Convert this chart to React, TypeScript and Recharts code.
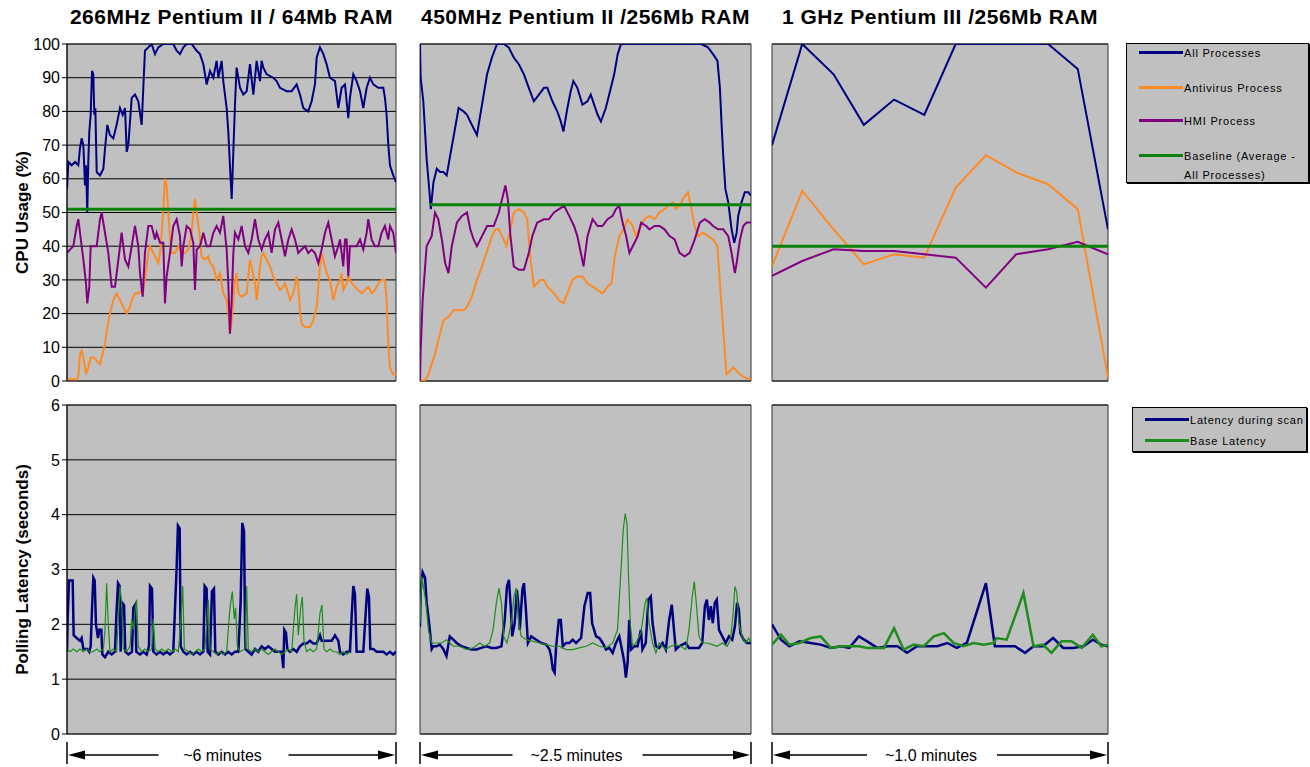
import { CartesianGrid, Line, LineChart, ReferenceArea, XAxis, YAxis } from "recharts"

type Pair = [number, number] // [elapsed seconds, value]

const FONT = "Arial, 'Liberation Sans', Helvetica, sans-serif"
const NAVY = "#000080"
const ORANGE = "#FF8A24"
const PURPLE = "#800080"
const GREEN = "#0B800B"
const LAT_GREEN = "#1E8C1E"

const CPU_TICKS = [0, 10, 20, 30, 40, 50, 60, 70, 80, 90, 100]
const LAT_TICKS = [0, 1, 2, 3, 4, 5, 6]

const TITLES = ["266MHz Pentium II / 64Mb RAM", "450MHz Pentium II /256Mb RAM", "1 GHz Pentium III /256Mb RAM"]
const SPANS = ["~6 minutes", "~2.5 minutes", "~1.0 minutes"]
const DURATIONS = [360, 150, 60]

// --- 266MHz, CPU usage (%) ---
const p1All: Pair[] = [
  [0, 57], [1.5, 65], [5.1, 64], [8.8, 65], [12.4, 64], [14.2, 69], [16, 72], [17.9, 70], [19.7, 58], [20.8, 64],
  [22.2, 50], [23.3, 65], [24.4, 74], [25.9, 79], [27.4, 92], [28.8, 91], [29.9, 79], [31, 81], [32.5, 62], [36.1, 61],
  [39.8, 63], [41.6, 69], [44.1, 76], [47, 73], [50.7, 72], [54.3, 76], [58, 81], [60.9, 79], [63.5, 81], [65.3, 68],
  [67.1, 70], [70.8, 84], [74.4, 85], [78, 83], [81.7, 76], [83.5, 87], [85.3, 98], [89, 99], [92.6, 100], [96.3, 97],
  [99.9, 99], [105.4, 100], [112.7, 100], [116.3, 100], [120, 98], [123.6, 97], [127.3, 99], [130.9, 100], [136.4, 100],
  [141.9, 98], [145.5, 97], [149.2, 94], [152.8, 88], [156.5, 92], [160.1, 90], [163.7, 95], [165.6, 90], [169.2, 95],
  [171, 89], [174.7, 81], [176.5, 74], [178.3, 64], [180.2, 54], [182, 68], [183.8, 82], [185.6, 93], [189.3, 87],
  [192.9, 85], [196.6, 86], [200.2, 94], [203.9, 85], [207.5, 95], [211.2, 89], [213, 95], [214.8, 93], [218.5, 91],
  [225.7, 90], [229.4, 89], [233, 87], [240.3, 86], [245.8, 86], [251.3, 88], [254.9, 85], [258.6, 81], [264, 80],
  [267.7, 83], [271.3, 88], [273.2, 96], [276.8, 99], [280.5, 97], [284.1, 94], [287.7, 90], [293.2, 89], [296.9, 81],
  [300.5, 87], [304.2, 88], [307.8, 78], [309.6, 84], [313.3, 91], [316.9, 89], [320.6, 86], [324.2, 81], [327.9, 87],
  [331.5, 90], [335.2, 88], [340.6, 87], [346.1, 87], [347.9, 84], [349.7, 79], [351.6, 70], [353.4, 64], [357, 61], [360, 59],
]
const p1Antivirus: Pair[] = [
  [0, 0.5], [5.1, 0.5], [10.6, 0.5], [12.4, 1.5], [14.2, 8], [16, 9], [18.6, 6], [20.8, 2], [23.3, 4], [25.9, 7],
  [28.8, 7], [32.5, 6], [36.1, 5], [37.9, 7], [39.8, 9], [41.6, 11], [43.4, 15], [47, 20], [50.7, 24], [54.3, 26],
  [58, 24], [61.6, 22], [65.3, 20], [68.9, 22], [70.8, 24], [74.4, 26], [78, 26], [81.7, 27], [83.5, 27], [87.2, 34],
  [89, 38], [90.8, 40], [94.5, 38], [98.1, 36], [99.9, 35], [101.8, 38], [103.6, 44], [105.4, 51], [107.2, 60], [109, 58],
  [110.9, 50], [112.7, 42], [114.5, 38], [118.2, 38], [121.8, 40], [125.5, 38], [129.1, 38], [132.8, 39], [136.4, 44],
  [138.2, 50], [140, 54], [141.9, 50], [144.8, 44], [147.3, 37], [151, 36], [154.6, 37], [156.5, 35], [160.1, 34],
  [163.7, 30], [167.4, 32], [171, 26], [174.7, 24], [176.5, 20], [178.3, 14], [180.2, 18], [182, 24], [183.8, 30],
  [185.6, 32], [187.5, 26], [191.1, 25], [196.6, 26], [198.4, 31], [200.2, 36], [202, 34], [205.7, 29], [207.5, 24],
  [211.2, 34], [213, 37], [214.8, 38], [218.5, 36], [222.1, 34], [225.7, 31], [229.4, 29], [233, 27], [236.7, 28],
  [238.5, 29], [242.2, 26], [244, 24], [247.6, 26], [251.3, 31], [253.1, 28], [254.9, 21], [256.7, 17], [260.4, 16],
  [265.9, 16], [269.5, 18], [273.2, 22], [276.8, 34], [278.6, 38], [280.5, 36], [284.1, 32], [287.7, 30], [291.4, 24],
  [295, 28], [298.7, 30], [300.5, 32], [302.3, 27], [306, 29], [307.8, 31], [311.5, 29], [315.1, 28], [318.8, 27],
  [322.4, 26], [326, 27], [329.7, 28], [333.3, 26], [337, 27], [340.6, 29], [344.3, 30], [347.9, 30], [349.7, 24],
  [351.6, 11], [353.4, 4], [357, 2], [360, 2],
]
const p1Hmi: Pair[] = [
  [0, 38], [3.3, 39], [6.9, 40], [10.6, 46], [12.4, 48], [14.2, 44], [17.9, 36], [20.8, 29], [22.2, 23], [24.4, 28],
  [25.9, 40], [32.5, 40], [36.1, 48], [37.9, 50], [41.6, 44], [45.2, 38], [48.9, 28], [52.5, 28], [56.2, 36], [59.8, 44],
  [63.5, 36], [67.1, 34], [70.8, 40], [74.4, 46], [78, 40], [79.9, 32], [82.8, 25], [85.3, 38], [89, 46], [92.6, 46],
  [96.3, 42], [98.1, 44], [101.8, 41], [105.4, 41], [107.2, 23], [109, 31], [112.7, 38], [116.3, 46], [120, 48],
  [123.6, 43], [125.5, 34], [127.3, 40], [130.9, 46], [134.6, 45], [138.2, 41], [140, 27], [141.9, 39], [145.5, 40],
  [149.2, 44], [152.8, 40], [156.5, 40], [160.1, 44], [163.7, 46], [167.4, 44], [171, 49], [174.7, 39], [176.5, 29],
  [178.3, 14], [180.2, 24], [182, 38], [183.8, 44], [187.5, 42], [191.1, 46], [194.8, 40], [198.4, 38], [202, 42],
  [205.7, 48], [209.3, 42], [213, 39], [216.6, 42], [220.3, 44], [223.9, 38], [227.6, 45], [231.2, 47], [234.9, 42],
  [238.5, 37], [242.2, 42], [245.8, 45], [249.5, 42], [253.1, 38], [256.7, 39], [260.4, 40], [264, 38], [267.7, 39],
  [271.3, 38], [275, 35], [278.6, 39], [282.3, 44], [285.9, 47], [289.6, 42], [293.2, 37], [296.9, 40], [298.7, 42],
  [302.3, 34], [304.2, 42], [306, 42], [307.8, 31], [309.6, 40], [313.3, 40], [316.9, 40], [320.6, 42], [324.2, 39],
  [327.9, 44], [329.7, 48], [333.3, 42], [337, 40], [340.6, 40], [344.3, 44], [347.9, 46], [351.6, 42], [353.4, 46],
  [357, 44], [360, 38],
]
const p1Baseline: Pair[] = [[0, 51], [360, 51]]

// --- 450MHz, CPU usage (%) ---
const p2All: Pair[] = [
  [0, 100], [0.3, 90], [1.5, 83], [3, 66], [4.3, 56], [4.9, 51], [6.1, 59], [7.6, 63], [9.1, 62], [10.6, 62],
  [12.1, 61], [13.7, 67], [15.9, 75], [17.5, 81], [19.7, 80], [21.3, 79], [23.5, 76], [25.8, 73], [28.1, 82], [30.4, 91],
  [32.6, 96], [34.9, 100], [38, 100], [40.2, 99], [42.5, 96], [44.8, 94], [47.1, 91], [49.3, 87], [51.6, 83], [53.9, 85],
  [56.2, 87], [57.7, 87], [60, 83], [62.2, 80], [63.8, 77], [65, 74], [66.8, 81], [68.3, 86], [69.5, 89], [71.3, 87],
  [73.6, 82], [75.9, 83], [77.4, 85], [78.9, 82], [80.5, 79], [82, 77], [84.2, 81], [86.5, 87], [88, 91], [89.6, 97],
  [91.1, 100], [127.5, 100], [130.5, 99], [132.8, 97], [134.8, 95], [135.9, 87], [136.6, 77], [137.4, 67], [138.4, 57],
  [139.7, 53], [141.2, 45], [142.4, 41], [143.5, 44], [144.2, 49], [145.7, 53], [147.2, 56], [148.8, 56], [150, 55],
]
const p2Antivirus: Pair[] = [
  [0, 0], [2.3, 0.3], [3.8, 2], [5.3, 5], [6.8, 8], [8.3, 12], [10.6, 18], [12.9, 19], [15.2, 21], [17.5, 21],
  [19.7, 21], [21.3, 22], [23.5, 25], [25.8, 30], [28.1, 34], [29.6, 37], [31.1, 40], [32.6, 43], [34.2, 45], [35.7, 45],
  [37.2, 43], [39.2, 40], [41, 45], [42.5, 50], [44.8, 51], [47.1, 50], [48.6, 48], [50.1, 36], [51.6, 28], [53.1, 29],
  [54.6, 30], [56.2, 30], [57.7, 28], [60.7, 26], [63, 24], [65, 23], [66.8, 26], [69.1, 30], [71.3, 31], [73.6, 31],
  [75.9, 29], [78.2, 28], [80.5, 27], [82.7, 26], [85, 28], [86.8, 29], [88.3, 37], [90.3, 43], [92.3, 45], [94.1, 48],
  [96.4, 46], [97.9, 43], [99.4, 45], [101.7, 48], [104, 49], [106.3, 48], [108.5, 50], [110.8, 51], [112.3, 52],
  [114.6, 53], [116.1, 51], [117.6, 52], [119.2, 54], [121.4, 56], [123, 51], [124.5, 46], [126, 43], [128.3, 44],
  [130.5, 43], [132.8, 42], [134.8, 40], [135.9, 29], [137, 19], [138.1, 9], [138.9, 2], [140.4, 3], [141.9, 4],
  [143.5, 3], [145, 2], [147.2, 1], [150, 0.5],
]
const p2Hmi: Pair[] = [
  [0, 0], [0.3, 9], [1.2, 24], [3, 40], [5.3, 43], [6.8, 50], [8.3, 48], [9.9, 42], [11.4, 35], [12.9, 32],
  [14.4, 40], [16.7, 47], [19, 49], [21.3, 50], [22.8, 45], [24.3, 42], [25.8, 40], [28.1, 43], [30.4, 46], [33.4, 46],
  [35.7, 50], [37.2, 54], [38.7, 58], [39.8, 54], [41, 43], [42.5, 34], [44.8, 33], [47.1, 33], [49.3, 38], [50.9, 43],
  [53.1, 47], [56.2, 48], [58.4, 48], [60.7, 50], [63, 51], [65.3, 52], [67.6, 49], [69.8, 46], [71.3, 43], [72.9, 38],
  [74.1, 34], [75.9, 43], [78.2, 48], [80.5, 46], [82.7, 46], [85, 48], [87.3, 49], [88.8, 51], [90.3, 52], [91.8, 47],
  [93.4, 43], [94.9, 38], [96.4, 40], [98.7, 43], [100.2, 47], [102.5, 46], [104, 45], [106.3, 46], [108.5, 46],
  [110.8, 45], [113.1, 43], [115.4, 42], [117.6, 38], [119.9, 37], [122.2, 38], [124.5, 42], [126.8, 47], [129, 48],
  [131.3, 47], [132.8, 46], [135.1, 45], [137.4, 45], [139.7, 43], [141.2, 38], [142.7, 32], [143.5, 35], [145, 42],
  [146.5, 46], [148, 47], [150, 47],
]
const p2Baseline: Pair[] = [[4.5, 52.3], [150, 52.3]]

// --- 1 GHz, CPU usage (%) ---
const p3All: Pair[] = [
  [0, 70], [5.4, 100], [11, 91], [16.4, 76], [21.8, 83.5], [27.2, 79], [32.8, 100], [38.2, 100], [43.6, 100],
  [49.3, 100], [54.6, 92.6], [60, 45],
]
const p3Antivirus: Pair[] = [
  [0, 34], [5.4, 56.4], [11, 45], [16.4, 34.6], [21.8, 37.6], [27.2, 36.6], [32.8, 57.4], [38.2, 67], [43.6, 61.9],
  [49.3, 58.4], [54.6, 51], [60, 1],
]
const p3Hmi: Pair[] = [
  [0, 31.2], [5.4, 35.6], [11, 39.1], [16.4, 38.6], [21.8, 38.6], [27.2, 37.6], [32.8, 36.6], [38.2, 27.7],
  [43.6, 37.6], [49.3, 39.1], [54.6, 41.3], [60, 37.6],
]
const p3Baseline: Pair[] = [[0, 40], [60, 40]]

// --- polling latency (seconds) ---
const l1Scan: Pair[] = [
  [0, 1.5], [0.7, 2.1], [2.2, 2.8], [4.7, 2.8], [6.2, 2.8], [7.3, 1.8], [10.6, 1.75], [14.2, 1.7], [16, 1.75], [17.9, 1.55],
  [22.2, 1.55], [24.4, 1.5], [25.9, 1.6], [27.4, 2.3], [28.8, 2.85], [30.3, 2.8], [31.7, 2], [33.9, 1.75], [35.4, 1.9],
  [37.6, 1.9], [38.7, 1.45], [41.6, 1.4], [45.2, 1.5], [48.9, 1.45], [52.5, 1.5], [54, 2.15], [55.8, 2.75], [57.6, 2.7],
  [58.7, 1.5], [60.2, 2.4], [62.4, 2.35], [63.8, 1.5], [67.1, 1.45], [71.1, 1.5], [72.6, 2.3], [74.4, 2.35], [75.9, 1.5],
  [79.9, 1.45], [83.5, 1.5], [87.2, 1.45], [89.7, 1.6], [90.8, 2.7], [93, 2.65], [94.5, 1.5], [98.1, 1.45], [101.8, 1.5],
  [105.4, 1.45], [109, 1.5], [112.7, 1.45], [116.3, 1.5], [118.2, 2.3], [120, 3.05], [121.4, 3.8], [123.3, 3.75],
  [124.4, 1.6], [127.3, 1.5], [130.9, 1.45], [134.6, 1.5], [138.2, 1.45], [141.9, 1.5], [145.5, 1.45], [149.2, 1.5],
  [150.6, 2.7], [152.8, 2.65], [153.9, 1.5], [156.5, 1.45], [158.6, 2.6], [160.8, 2.65], [162.3, 1.5], [165.6, 1.45],
  [169.2, 1.5], [172.9, 1.45], [176.5, 1.5], [180.2, 1.45], [183.8, 1.5], [187.5, 1.5], [190, 2.4], [191.8, 3.85],
  [193.7, 3.7], [195.1, 1.55], [198.4, 1.5], [202, 1.45], [205.7, 1.55], [209.3, 1.5], [213, 1.6], [216.6, 1.55],
  [220.3, 1.6], [223.9, 1.55], [227.6, 1.5], [231.2, 1.5], [234.9, 1.5], [236.7, 1.2], [237.8, 1.9], [239.6, 1.85],
  [241.1, 1.55], [244, 1.5], [247.6, 1.55], [251.3, 1.5], [254.9, 1.6], [258.6, 1.65], [262.2, 1.65], [265.9, 1.7],
  [269.5, 1.65], [273.2, 1.65], [276.8, 1.8], [278.6, 1.7], [282.3, 1.7], [285.9, 1.7], [289.6, 1.7], [293.2, 1.8],
  [296.9, 1.7], [298.7, 1.5], [302.3, 1.45], [306, 1.5], [309.6, 1.5], [311.5, 2.15], [313.3, 2.7], [315.1, 2.55],
  [316.9, 1.5], [320.6, 1.5], [324.2, 1.5], [326.8, 2.2], [328.6, 2.65], [330.4, 2.5], [331.9, 1.55], [335.2, 1.55],
  [338.8, 1.5], [342.5, 1.5], [346.1, 1.5], [349.7, 1.45], [353.4, 1.5], [357, 1.45], [360, 1.5],
]
const l1Base: Pair[] = [
  [0, 1.55], [3.3, 1.5], [6.9, 1.55], [10.6, 1.5], [14.2, 1.55], [17.9, 1.5], [21.5, 1.55], [25.2, 1.5], [28.8, 1.5],
  [32.5, 1.55], [36.1, 1.5], [39.8, 1.55], [41.6, 1.9], [43.4, 2.75], [45.2, 2], [47, 1.5], [50.7, 1.55], [54.3, 1.5],
  [56.5, 2.2], [58, 2.7], [59.8, 2.4], [61.6, 1.55], [65.3, 1.5], [68.9, 1.6], [70.8, 2.1], [72.6, 1.9], [74.4, 2.25],
  [76.2, 2.45], [78, 1.6], [81.7, 1.5], [85.3, 1.55], [89, 1.5], [92.6, 1.55], [94.5, 2.1], [96.3, 1.55], [99.9, 1.5],
  [103.6, 1.55], [107.2, 1.5], [110.9, 1.55], [114.5, 1.5], [118.2, 1.55], [121.8, 1.5], [124.4, 2], [126.6, 2.7],
  [128.4, 1.55], [132.8, 1.5], [136.4, 1.45], [140, 1.5], [143.7, 1.55], [147.3, 1.5], [151, 1.55], [154.6, 2.45],
  [156.5, 1.55], [160.1, 1.5], [163.7, 1.45], [167.4, 1.5], [171, 1.45], [174.7, 1.5], [178.3, 2.3], [180.9, 2.6],
  [183.1, 2.1], [184.5, 2.3], [186.4, 1.6], [189.3, 1.5], [194.8, 1.55], [196.6, 2.7], [198.4, 1.55], [202, 1.5],
  [205.7, 1.55], [209.3, 1.5], [213, 1.55], [216.6, 1.5], [220.3, 1.45], [223.9, 1.5], [227.6, 1.55], [231.2, 1.5],
  [234.9, 1.45], [238.5, 1.5], [242.2, 1.55], [245.8, 1.5], [249.5, 2.3], [251.3, 2.55], [253.1, 1.8], [255.7, 2.3],
  [257.5, 2.5], [259.3, 1.7], [262.2, 1.5], [265.9, 1.55], [269.5, 1.5], [273.2, 1.55], [276.8, 2.2], [279, 2.35],
  [281.2, 1.55], [284.1, 1.5], [287.7, 1.55], [291.4, 1.5], [295, 1.5], [298.7, 1.45], [302.3, 1.5], [306, 1.45], [309.6, 1.5],
]
const l2Scan: Pair[] = [
  [0, 1.96], [0.3, 2.6], [1.2, 2.95], [2.3, 2.85], [3, 2.4], [4.2, 2], [5.3, 1.55], [6, 1.6], [7.5, 1.6], [9, 1.63],
  [10.5, 1.55], [12, 1.42], [13.5, 1.78], [15.1, 1.72], [16.6, 1.66], [18.8, 1.6], [21.1, 1.57], [23.3, 1.54], [25.6, 1.54],
  [27.8, 1.57], [30.1, 1.6], [32.4, 1.57], [34.6, 1.57], [36.9, 1.6], [38.4, 2.08], [39.4, 2.69], [40.3, 2.81], [41.1, 2.33],
  [41.8, 1.78], [42.9, 2.02], [43.9, 2.63], [44.5, 2.39], [45.2, 1.9], [46.4, 2.63], [47.1, 2.75], [47.9, 2.33], [48.9, 1.66],
  [50.4, 1.78], [52.7, 1.72], [54.9, 1.66], [57.2, 1.63], [58.7, 1.54], [59.4, 1.42], [60.2, 1.18], [61, 1.12], [61.7, 1.6],
  [62.9, 2.08], [63.8, 2.08], [64.7, 1.6], [66.2, 1.66], [67.7, 1.66], [69.2, 1.72], [70.7, 1.66], [73, 1.75], [74.5, 2.33],
  [76, 2.57], [77.1, 2.57], [78, 2.02], [79.8, 1.78], [81.3, 1.75], [82.8, 1.66], [84.3, 1.54], [85.8, 1.57], [87.3, 1.48],
  [88.8, 1.66], [90.3, 1.78], [91.8, 1.48], [92.6, 1.3], [93.3, 1.03], [94.1, 1.3], [94.8, 2.08], [95.6, 1.54], [97.1, 1.6],
  [98.6, 1.6], [100.1, 1.9], [100.8, 1.54], [102.3, 1.66], [103.5, 2.45], [104.6, 2.51], [105.4, 2.02], [106.9, 1.6],
  [108.4, 1.57], [109.9, 1.66], [111.4, 1.54], [112.9, 2.08], [114.1, 2.36], [115.1, 1.9], [115.9, 1.54], [117.4, 1.6],
  [118.9, 1.63], [120.4, 1.66], [121.9, 1.57], [123.4, 1.57], [126.4, 1.57], [127.9, 1.66], [129.1, 2.33], [130, 2.45],
  [130.9, 2.08], [131.8, 2.33], [132.7, 2.02], [133.6, 2.39], [134.5, 2.45], [135.5, 1.9], [137, 1.78], [138.5, 1.66],
  [140, 1.78], [141.5, 1.72], [142.7, 1.96], [143.7, 2.39], [144.5, 2.27], [145.2, 1.84], [146.7, 1.72], [148.2, 1.66], [150, 1.66],
]
const l2Base: Pair[] = [
  [0, 2.02], [0.8, 2.87], [1.8, 2.63], [2.7, 2.39], [3.8, 1.9], [5.3, 1.66], [7.5, 1.66], [9.8, 1.66], [12, 1.72],
  [15.1, 1.6], [18.1, 1.6], [21.1, 1.54], [24.1, 1.57], [27.1, 1.66], [29.3, 1.6], [31.6, 1.66], [33.1, 1.9], [34.6, 2.39],
  [35.8, 2.66], [36.9, 2.39], [37.9, 1.78], [39.4, 1.66], [41.4, 2.02], [42.6, 2.51], [43.6, 2.66], [44.8, 2.02], [45.9, 1.78],
  [48.2, 1.72], [51.2, 1.69], [54.2, 1.66], [57.2, 1.63], [60.2, 1.6], [63.2, 1.6], [66.2, 1.54], [69.2, 1.54], [72.2, 1.57],
  [75.3, 1.6], [78.3, 1.66], [81.3, 1.6], [84.3, 1.57], [87.3, 1.66], [89.5, 1.9], [91, 2.93], [92.1, 3.72], [93, 4.02],
  [93.8, 3.84], [94.5, 2.87], [95.3, 2.02], [96.3, 1.6], [97.8, 1.66], [100.1, 1.84], [102, 2.39], [102.9, 2.48], [103.8, 2.02],
  [105.4, 1.66], [106.9, 1.48], [108.4, 1.66], [109.9, 1.6], [111.4, 1.54], [113.6, 1.6], [115.9, 1.63], [118.1, 1.6],
  [120.4, 1.54], [121.9, 1.9], [123.4, 2.51], [124.3, 2.78], [125.2, 2.39], [126.4, 1.78], [127.9, 1.66], [130.2, 1.66],
  [132.4, 1.63], [134.7, 1.6], [137, 1.66], [139.2, 1.6], [140.7, 1.72], [141.9, 2.2], [142.7, 2.69], [143.6, 2.57],
  [144.5, 2.02], [146, 1.78], [147.5, 1.66], [149, 1.75], [150, 1.66],
]
const l3Scan: Pair[] = [
  [0, 2], [1.6, 1.72], [3.1, 1.6], [4.9, 1.69], [6.9, 1.66], [8.7, 1.63], [10.5, 1.57], [12.3, 1.6], [13.8, 1.57],
  [15.5, 1.78], [17, 1.69], [18.8, 1.57], [20.6, 1.6], [22.4, 1.6], [24.1, 1.48], [25.9, 1.6], [27.7, 1.6], [29.5, 1.6],
  [31.3, 1.66], [33, 1.57], [34.8, 1.66], [38.2, 2.75], [39.8, 1.6], [41.6, 1.6], [43.4, 1.6], [45.2, 1.48], [46.7, 1.6],
  [48.4, 1.6], [50.2, 1.75], [52, 1.57], [53.8, 1.57], [55.6, 1.6], [57.3, 1.72], [58.8, 1.63], [60, 1.6],
]
const l3Base: Pair[] = [
  [0, 1.63], [1.6, 1.81], [3.1, 1.63], [4.9, 1.66], [6.9, 1.75], [8.7, 1.78], [10.5, 1.57], [12.3, 1.6], [13.8, 1.6],
  [15.5, 1.6], [17, 1.57], [18.8, 1.57], [20, 1.57], [21.8, 1.93], [23.5, 1.54], [25.3, 1.63], [27.1, 1.6], [28.9, 1.78],
  [30.7, 1.84], [32.4, 1.66], [34.2, 1.6], [36, 1.66], [37.8, 1.63], [39.6, 1.66], [40.1, 1.75], [41.9, 1.72], [44.9, 2.57],
  [46.7, 1.6], [48.4, 1.63], [49.9, 1.48], [51.7, 1.69], [53.5, 1.69], [55.3, 1.57], [57.3, 1.81], [58.8, 1.6], [60, 1.63],
]

type Series = { name: string; pairs: Pair[]; color: string; width: number }

const toPoints = (pairs: Pair[]) => pairs.map(([t, v]) => ({ t, v }))

function Panel({
  x, y, w, h, xMax, yMax, ticks, axisTitle, series,
}: {
  x: number; y: number; w: number; h: number; xMax: number; yMax: number; ticks: number[]; axisTitle?: string; series: Series[]
}) {
  const pad = { top: 10, right: 4, bottom: 10, left: 4 }
  const axisW = axisTitle ? 63 : 0
  return (
    <div style={{ position: "absolute", left: x - pad.left - axisW, top: y - pad.top }}>
      <LineChart width={w + axisW + pad.left + pad.right} height={h + pad.top + pad.bottom} margin={pad}>
        <CartesianGrid vertical={false} stroke="#000" strokeOpacity={1} fill="#C0C0C0" fillOpacity={1} />
        <XAxis type="number" dataKey="t" domain={[0, xMax]} allowDataOverflow hide />
        {axisTitle ? (
          <YAxis
            type="number"
            domain={[0, yMax]}
            ticks={ticks}
            interval={0}
            width={axisW}
            allowDataOverflow
            axisLine={{ stroke: "#000" }}
            tickLine={{ stroke: "#000" }}
            tickSize={5}
            tickMargin={2}
            tick={{ fill: "#000", fontSize: 16, fontFamily: FONT }}
            label={{
              value: axisTitle,
              angle: -90,
              position: "insideLeft",
              offset: 18,
              style: { textAnchor: "middle", fontSize: 17, fontWeight: 700, fontFamily: FONT, fill: "#000" },
            }}
          />
        ) : (
          <YAxis type="number" domain={[0, yMax]} ticks={ticks} interval={0} width={0} tick={false} tickLine={false} axisLine={false} allowDataOverflow />
        )}
        <ReferenceArea x1={0} x2={xMax} y1={0} y2={yMax} fill="none" stroke="#333" strokeWidth={1} ifOverflow="visible" />
        {series.map((s) => (
          <Line
            key={s.name}
            name={s.name}
            data={toPoints(s.pairs)}
            dataKey="v"
            type="linear"
            stroke={s.color}
            strokeWidth={s.width}
            dot={false}
            activeDot={false}
            isAnimationActive={false}
          />
        ))}
      </LineChart>
    </div>
  )
}

// |◄──── ~6 minutes ────►| bracket under each bottom panel
function Span({ x, w, label }: { x: number; w: number; label: string }) {
  const mid = w / 2 - 9
  return (
    <svg style={{ position: "absolute", left: x - 2, top: 740, overflow: "visible" }} width={w + 4} height={26}>
      <g transform="translate(2,0)" stroke="#000" strokeWidth={1.5}>
        <line x1={0} y1={2} x2={0} y2={24} />
        <line x1={w} y1={2} x2={w} y2={24} />
        <polygon points={`1,15 18,10.5 18,19.5`} fill="#000" stroke="none" />
        <polygon points={`${w - 1},15 ${w - 18},10.5 ${w - 18},19.5`} fill="#000" stroke="none" />
        <line x1={18} y1={15} x2={mid - 64} y2={15} />
        <line x1={mid + 66} y1={15} x2={w - 18} y2={15} />
        <text x={mid} y={15} textAnchor="middle" dominantBaseline="central" fontSize={16} fontFamily={FONT} fill="#000" stroke="none">
          {label}
        </text>
      </g>
    </svg>
  )
}

function LegendRow({ top, color, lines }: { top: number; color: string; lines: string[] }) {
  return (
    <div style={{ position: "absolute", left: 0, top, width: "100%" }}>
      <div style={{ position: "absolute", left: 12, top: -1.5, width: 44, height: 3, background: color }} />
      <div style={{ position: "absolute", left: 57, top: -8, fontSize: 11, lineHeight: "19px", letterSpacing: 0.8, whiteSpace: "nowrap" }}>
        {lines.map((l) => (
          <div key={l}>{l}</div>
        ))}
      </div>
    </div>
  )
}

const boxStyle = {
  position: "absolute" as const,
  background: "#C0C0C0",
  border: "1px solid #000",
  boxShadow: "1px 1px 0 #000",
  fontFamily: FONT,
  color: "#000",
}

export default function App() {
  const top = { y: 44, h: 337 }
  const bottom = { y: 405, h: 329 }
  const cols = [
    { x: 67, w: 329 },
    { x: 420, w: 331 },
    { x: 772, w: 336 },
  ]
  const cpu = [
    [p1All, p1Antivirus, p1Hmi, p1Baseline],
    [p2All, p2Antivirus, p2Hmi, p2Baseline],
    [p3All, p3Antivirus, p3Hmi, p3Baseline],
  ]
  const lat = [
    [l1Scan, l1Base],
    [l2Scan, l2Base],
    [l3Scan, l3Base],
  ]
  return (
    <div style={{ position: "absolute", left: 0, top: 0, width: 1310, height: 767, background: "#fff", fontFamily: FONT, overflow: "hidden" }}>
      {cols.map((c, i) => (
        <div
          key={TITLES[i]}
          style={{ position: "absolute", left: c.x - 40, width: c.w + 80, top: 5, textAlign: "center", fontSize: 21, fontWeight: 700, lineHeight: "24px", letterSpacing: 0.5, whiteSpace: "nowrap" }}
        >
          {TITLES[i]}
        </div>
      ))}
      {cols.map((c, i) => (
        <Panel
          key={`cpu${i}`}
          x={c.x}
          y={top.y}
          w={c.w}
          h={top.h}
          xMax={DURATIONS[i]}
          yMax={100}
          ticks={CPU_TICKS}
          axisTitle={i === 0 ? "CPU Usage (%)" : undefined}
          series={[
            { name: "All Processes", pairs: cpu[i][0], color: NAVY, width: 2 },
            { name: "Antivirus Process", pairs: cpu[i][1], color: ORANGE, width: 2 },
            { name: "HMI Process", pairs: cpu[i][2], color: PURPLE, width: 2 },
            { name: "Baseline", pairs: cpu[i][3], color: GREEN, width: 3 },
          ]}
        />
      ))}
      {cols.map((c, i) => (
        <Panel
          key={`lat${i}`}
          x={c.x}
          y={bottom.y}
          w={c.w}
          h={bottom.h}
          xMax={DURATIONS[i]}
          yMax={6}
          ticks={LAT_TICKS}
          axisTitle={i === 0 ? "Polling Latency (seconds)" : undefined}
          series={[
            { name: "Latency during scan", pairs: lat[i][0], color: NAVY, width: 2.5 },
            { name: "Base Latency", pairs: lat[i][1], color: LAT_GREEN, width: i === 2 ? 2.5 : 1.2 },
          ]}
        />
      ))}
      {cols.map((c, i) => (
        <Span key={SPANS[i]} x={c.x} w={c.w} label={SPANS[i]} />
      ))}

      <div style={{ ...boxStyle, left: 1126, top: 43, width: 181, height: 138 }}>
        <LegendRow top={8} color={NAVY} lines={["All Processes"]} />
        <LegendRow top={43} color={ORANGE} lines={["Antivirus Process"]} />
        <LegendRow top={76} color={PURPLE} lines={["HMI Process"]} />
        <LegendRow top={111} color={GREEN} lines={["Baseline (Average -", "All Processes)"]} />
      </div>
      <div style={{ ...boxStyle, left: 1132, top: 407, width: 173, height: 43 }}>
        <LegendRow top={11} color={NAVY} lines={["Latency during scan"]} />
        <LegendRow top={32} color={LAT_GREEN} lines={["Base Latency"]} />
      </div>
    </div>
  )
}
